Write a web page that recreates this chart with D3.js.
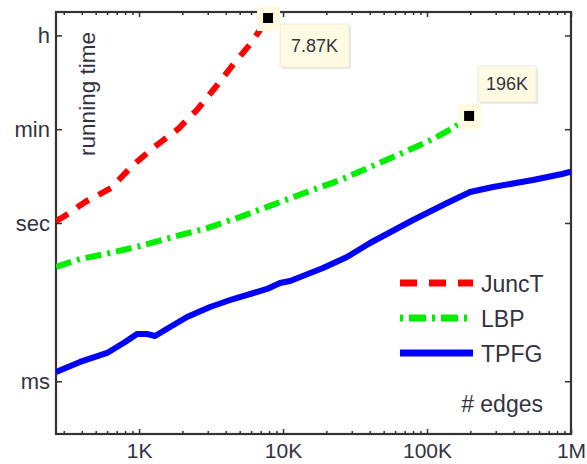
<!DOCTYPE html>
<html>
<head>
<meta charset="utf-8">
<script src="https://cdn.jsdelivr.net/npm/d3@7"></script>
<style>
  html, body { margin: 0; padding: 0; background: #fff; }
  svg { display: block; }
  text { font-family: "Liberation Sans", Arial, sans-serif; fill: #33333f; }
</style>
</head>
<body>
<svg id="chart" width="587" height="464"></svg>
<script>
// Running time (seconds) versus number of edges, log-log.
const junctEdges = [265, 297, 422, 640, 894, 1251, 1865, 2529, 3318, 4426, 5995, 7870];
const junctTime  = [1.09, 1.30, 2.50, 4.61, 12.0, 26.4, 60.5, 139, 347, 947, 2585, 7690];

const lbpEdges = [265, 389, 629, 1016, 1722, 2965, 5023, 9530, 14680, 24880, 40200, 64920, 110000, 156000, 196000];
const lbpTime  = [0.147, 0.208, 0.27, 0.366, 0.543, 0.80, 1.30, 2.50, 3.87, 6.53, 11.5, 20.3, 39.1, 66, 107];

const tpfgEdges = [265, 389, 600, 800, 968, 1136, 1291, 1642, 2154, 3110, 4497, 7744, 9530, 11190, 18950, 27800, 40170, 80000, 137700, 199000, 287000, 544000, 866000, 1000000];
const tpfgTime  = [0.0015, 0.00232, 0.00344, 0.00555, 0.00787, 0.00787, 0.00721, 0.01067, 0.01652, 0.0256, 0.0362, 0.0561, 0.0729, 0.0795, 0.140, 0.227, 0.418, 1.14, 2.39, 3.87, 4.81, 6.53, 8.49, 9.4];

const seriesNames = ["JuncT", "LBP", "TPFG"];
const xTickValues = [1e3, 1e4, 1e5, 1e6];
const xTickLabels = ["1K", "10K", "100K", "1M"];
const yTickValues = [0.001, 1, 60, 3600];
const yTickLabels = ["ms", "sec", "min", "h"];

// Series end points that carry a callout with their edge count
const calloutEdges = [7870, 196000];
const calloutTime  = [7690, 107];
const calloutText  = ["7.87K", "196K"];

const svg = d3.select("#chart");
const plotLeft = 56, plotRight = 571, plotTop = 12, plotBottom = 434;

const x = d3.scaleLog().domain([265, 1e6]).range([plotLeft, plotRight]);
const y = d3.scaleLog().domain([1e-4, 1e4]).range([plotBottom, plotTop]);

const axisColor = "#333";

// clip for the curves
svg.append("defs").append("clipPath").attr("id", "plotClip")
  .append("rect").attr("x", plotLeft).attr("y", plotTop)
  .attr("width", plotRight - plotLeft).attr("height", plotBottom - plotTop);

// minor ticks (2..9 per decade) on bottom and top
const minorX = x.ticks().filter(v => !xTickValues.includes(v));
function styleAxis(g, size) {
  g.select(".domain").remove();
  g.selectAll(".tick line").attr("stroke", axisColor).attr("stroke-width", 1.5);
  g.selectAll(".tick text").attr("font-size", size || 22).style("fill", "#33333f");
}
svg.append("g").attr("transform", `translate(0,${plotBottom})`)
  .call(d3.axisBottom(x).tickValues(minorX).tickSize(-3).tickFormat(""))
  .call(styleAxis);
svg.append("g").attr("transform", `translate(0,${plotTop})`)
  .call(d3.axisTop(x).tickValues(minorX).tickSize(-3).tickFormat(""))
  .call(styleAxis);

// major ticks with labels
svg.append("g").attr("transform", `translate(0,${plotBottom})`)
  .call(d3.axisBottom(x).tickValues(xTickValues).tickSize(-5).tickPadding(9)
        .tickFormat((d, i) => xTickLabels[i]))
  .call(g => styleAxis(g, 21));
svg.append("g").attr("transform", `translate(0,${plotTop})`)
  .call(d3.axisTop(x).tickValues(xTickValues).tickSize(-5).tickFormat(""))
  .call(styleAxis);
svg.append("g").attr("transform", `translate(${plotLeft},0)`)
  .call(d3.axisLeft(y).tickValues(yTickValues).tickSize(-6).tickPadding(6)
        .tickFormat((d, i) => yTickLabels[i]))
  .call(styleAxis);
svg.append("g").attr("transform", `translate(${plotRight},0)`)
  .call(d3.axisRight(y).tickValues(yTickValues).tickSize(-6).tickFormat(""))
  .call(styleAxis);

// plot frame
svg.append("rect").attr("x", plotLeft).attr("y", plotTop)
  .attr("width", plotRight - plotLeft).attr("height", plotBottom - plotTop)
  .attr("fill", "none").attr("stroke", axisColor).attr("stroke-width", 2.2);

// curves
const line = d3.line().x(d => x(d[0])).y(d => y(d[1]));
const styles = [
  { color: "#ff0000", dash: "14,11" },
  { color: "#00ee00", dash: "16,6,3,6" },
  { color: "#0000ff", dash: null }
];
const seriesData = [
  d3.zip(junctEdges, junctTime),
  d3.zip(lbpEdges, lbpTime),
  d3.zip(tpfgEdges, tpfgTime)
];

const curves = svg.append("g").attr("clip-path", "url(#plotClip)");
seriesData.forEach((data, i) => {
  const path = curves.append("path").datum(data)
    .attr("d", line)
    .attr("fill", "none")
    .attr("stroke", styles[i].color)
    .attr("stroke-width", 6)
    .attr("stroke-linejoin", "round");
  if (styles[i].dash) path.attr("stroke-dasharray", styles[i].dash);
});

// callouts: marker at the last point plus a label box
const cream = "#fffbe3";
calloutEdges.forEach((e, i) => {
  const cx = x(e), cy = y(calloutTime[i]);
  const g = svg.append("g");
  const bx = i === 0 ? cx + 12 : cx + 9;
  const by = i === 0 ? cy + 6 : cy - 50;
  const bw = i === 0 ? 69 : 58;
  const bh = i === 0 ? 43 : 36;
  g.append("rect").attr("x", bx + 2).attr("y", by + 2).attr("width", bw).attr("height", bh)
    .attr("fill", "#e8e8e0");
  g.append("rect").attr("x", bx).attr("y", by).attr("width", bw).attr("height", bh)
    .attr("fill", cream).attr("stroke", "#ecebdc").attr("stroke-width", 1);
  g.append("text").attr("x", bx + bw / 2).attr("y", by + bh / 2 + 6)
    .attr("text-anchor", "middle").attr("font-size", 18).text(calloutText[i]);
  g.append("rect").attr("x", cx - 11).attr("y", cy - 12).attr("width", 23).attr("height", 25)
    .attr("fill", cream);
  g.append("rect").attr("x", cx - 5).attr("y", cy - 5).attr("width", 10).attr("height", 10)
    .attr("fill", "#000");
});

// legend
const legend = svg.append("g");
seriesNames.forEach((name, i) => {
  const ly = 283 + i * 35;
  const seg = legend.append("line").attr("x1", 400).attr("x2", 473)
    .attr("y1", ly).attr("y2", ly)
    .attr("stroke", styles[i].color).attr("stroke-width", 7);
  if (i === 0) seg.attr("stroke-dasharray", "17,12");
  if (i === 1) seg.attr("stroke-dasharray", "3,6,17,6");
  legend.append("text").attr("x", 481).attr("y", ly + 9)
    .attr("font-size", 23).text(name);
});

// axis titles inside the frame
svg.append("text").attr("x", 543).attr("y", 412).attr("text-anchor", "end")
  .attr("font-size", 23).text("# edges");
svg.append("text").attr("transform", "translate(95,94) rotate(-90)")
  .attr("text-anchor", "middle").attr("font-size", 22.5).text("running time");
</script>
</body>
</html>
